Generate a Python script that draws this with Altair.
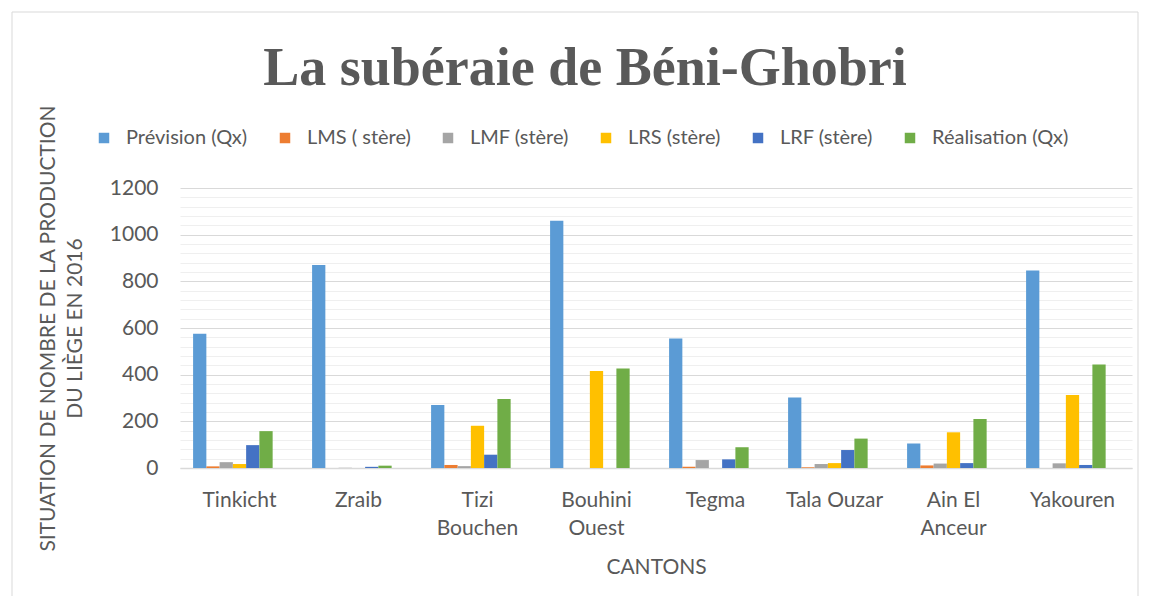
import altair as alt
import pandas as pd

cantons = ["Tinkicht", "Zraib", "Tizi Bouchen", "Bouhini Ouest", "Tegma",
           "Tala Ouzar", "Ain El Anceur", "Yakouren"]
tick_lines = [["Tinkicht"], ["Zraib"], ["Tizi", "Bouchen"], ["Bouhini", "Ouest"],
              ["Tegma"], ["Tala Ouzar"], ["Ain El", "Anceur"], ["Yakouren"]]
series = ["Prévision (Qx)", "LMS ( stère)", "LMF (stère)", "LRS (stère)",
          "LRF (stère)", "Réalisation (Qx)"]
prevision = [575, 870, 270, 1060, 555, 302, 105, 846]
lms = [7, 0, 13, 0, 5, 3, 11, 0]
lmf = [25, 1, 8, 0, 34, 17, 19, 20]
lrs = [17, 0, 181, 416, 0, 21, 153, 313]
lrf = [98, 5, 57, 0, 37, 77, 21, 13]
realisation = [158, 10, 296, 426, 89, 126, 210, 444]
colors = ["#5B9BD5", "#ED7D31", "#A5A5A5", "#FFC000", "#4472C4", "#70AD47"]
y_ticks = list(range(0, 1201, 40))
title_text = "La subéraie de Béni-Ghobri"

values = [prevision, lms, lmf, lrs, lrf, realisation]
rows = []
for s, vals in zip(series, values):
    for c, v in zip(cantons, vals):
        rows.append({"Canton": c, "Série": s, "Valeur": v})
df = pd.DataFrame(rows)

# label expression for multi-line category labels
expr = "datum.label"
for c, lines in reversed(list(zip(cantons, tick_lines))):
    arr = "[" + ",".join("'" + l + "'" for l in lines) + "]"
    expr = f"datum.label == '{c}' ? {arr} : ({expr})"

TXT = "#595959"
FONT = "Lato"
FS = 21

bars = alt.Chart(df).mark_bar().encode(
    x=alt.X("Canton:N", sort=cantons,
            scale=alt.Scale(paddingInner=0.22, paddingOuter=0.11),
            axis=alt.Axis(title="CANTONS", labelAngle=0, labelExpr=expr,
                          labelFont=FONT, labelFontSize=FS, labelColor=TXT,
                          labelPadding=21, labelLineHeight=28,
                          titleFont=FONT, titleFontSize=FS, titleColor=TXT,
                          titleFontWeight="normal", titlePadding=18,
                          ticks=False, domainColor="#d9d9d9", domainWidth=1.5)),
    xOffset=alt.XOffset("Série:N", sort=series,
                        scale=alt.Scale(domain=series + ["_"], paddingInner=0, paddingOuter=0)),
    y=alt.Y("Valeur:Q",
            scale=alt.Scale(domain=[0, 1200], nice=False),
            axis=alt.Axis(values=y_ticks, format="d",
                          labelExpr="datum.value % 200 === 0 ? datum.label : ''",
                          title=["SITUATION DE NOMBRE DE LA PRODUCTION", "DU LIÈGE EN 2016"],
                          labelFont=FONT, labelFontSize=FS, labelColor=TXT,
                          labelPadding=22,
                          titleFont=FONT, titleFontSize=FS, titleColor=TXT,
                          titleFontWeight="normal", titleLineHeight=27,
                          titlePadding=24,
                          ticks=False, domain=False,
                          gridColor={"condition": {"test": "datum.value % 200 === 0", "value": "#d9d9d9"},
                                     "value": "#efefef"},
                          gridWidth=1.2)),
    color=alt.Color("Série:N", sort=series,
                    scale=alt.Scale(domain=series, range=colors),
                    legend=alt.Legend(title=None, orient="none", direction="horizontal",
                                      legendX=-86, legendY=-60,
                                      symbolType="square", symbolSize=110,
                                      symbolStrokeWidth=0,
                                      labelFont=FONT, labelFontSize=20, labelColor=TXT,
                                      labelOffset=12, columnPadding=27)),
)

frame = alt.Chart(pd.DataFrame({"a": [0]})).mark_rect(
    fill=None, stroke="#d9d9d9", strokeWidth=1
).encode(x=alt.value(-168), x2=alt.value(958), y=alt.value(-176), y2=alt.value(440))

title = alt.Chart(pd.DataFrame({"t": [title_text]})).mark_text(
    font="Liberation Serif", fontSize=54, fontWeight="bold", color=TXT,
    align="center", baseline="alphabetic"
).encode(text="t:N", x=alt.value(405), y=alt.value(-103))

chart = alt.layer(frame, bars, title).properties(
    width=952, height=280,
    padding={"left": 172, "top": 180, "right": 8, "bottom": 128},
    autosize=alt.AutoSizeParams(type="none"),
).configure_view(stroke=None)

chart.save("out.html", embed_options={"renderer": "svg", "actions": False})
